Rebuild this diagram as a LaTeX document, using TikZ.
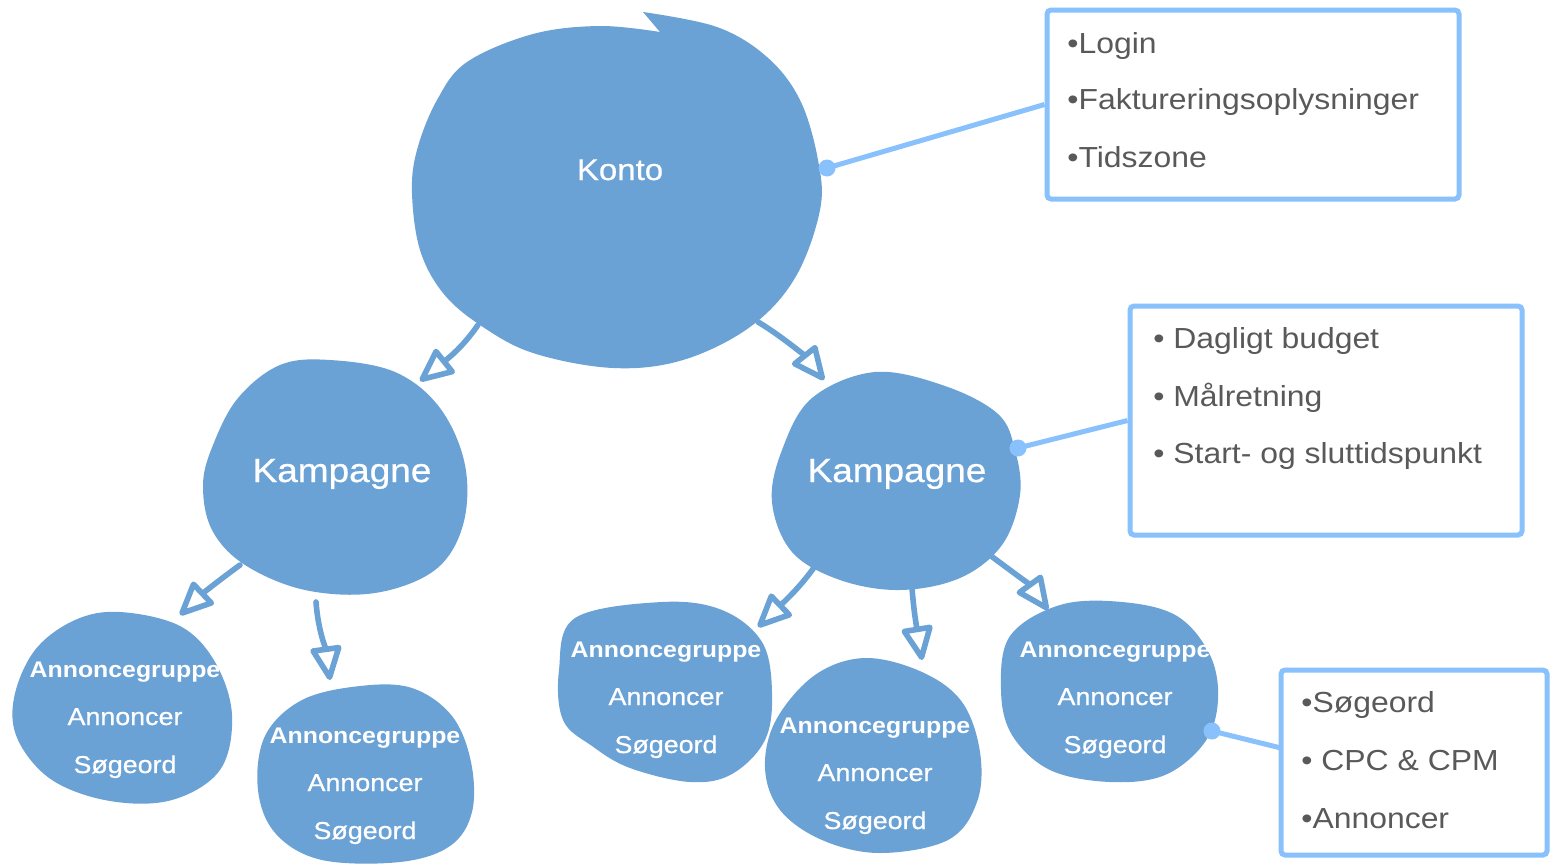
\documentclass[tikz,border=0pt]{standalone}
\usepackage{fontspec}
\setmainfont{Liberation Sans}[FakeStretch=1.1]
\newfontfamily\wfont{Liberation Sans}[FakeStretch=1.1, FakeBold=0.6]
\usetikzlibrary{arrows.meta}
\definecolor{blobc}{HTML}{6BA2D6}
\definecolor{linec}{HTML}{88C1FC}
\definecolor{txtc}{HTML}{595959}
\begin{document}
\begin{tikzpicture}[x=0.5pt,y=-0.5pt,
  blob/.style={fill=blobc},
  arr/.style={draw=blobc, line width=2.8pt, line cap=round,
    -{Triangle[open, length=19pt, width=16.5pt, round]}},
  conn/.style={draw=linec, line width=2.5pt},
  dotn/.style={circle, fill=linec, inner sep=0pt, minimum size=8.5pt},
  infobox/.style={draw=linec, line width=2.5pt, rounded corners=2pt, inner sep=0pt},
  btxt/.style={anchor=base west, text=txtc, font=\fontsize{14.5}{17}\selectfont, inner sep=0pt},
  wt/.style={anchor=base, text=white, inner sep=0pt},
  agt/.style={wt, font=\fontsize{11.3}{14}\selectfont\bfseries},
  agl/.style={wt, font=\wfont\fontsize{12.2}{14}\selectfont}
]
\useasboundingbox (0,0) rectangle (1551,863);

% ---------- blobs ----------
% Konto
\fill[blob] plot[smooth, tension=0.6] coordinates {(643,12) (717,27) (767,57) (800,100) (818,160) (820,210) (795,278) (750,327) (683,360) (613,368) (533,353) (480,325) (443,293) (420,250) (412,193) (417,150) (437,100) (467,62) (533,34) (600,26) (660,32)} -- cycle;
% Kampagne left
\fill[blob] plot[smooth cycle, tension=0.6] coordinates {(330,360) (395,372) (440,408) (465,465) (463,525) (435,570) (375,593) (305,590) (245,565) (212,530) (203,485) (213,445) (238,398) (280,365)};
% Kampagne right
\fill[blob] plot[smooth cycle, tension=0.6] coordinates {(875,372) (945,386) (998,414) (1015,450) (1020,495) (1002,545) (960,578) (900,590) (840,580) (792,552) (772,502) (782,450) (812,398)};
% AG1
\fill[blob] plot[smooth cycle, tension=0.6] coordinates {(120,612) (180,626) (215,662) (232,715) (220,770) (172,800) (110,801) (52,780) (18,740) (14,698) (35,650) (75,620)};
% AG2
\fill[blob] plot[smooth cycle, tension=0.6] coordinates {(360,686) (412,688) (452,716) (471,762) (472,812) (450,846) (400,862) (322,860) (276,834) (258,790) (265,736) (302,700)};
% AG3
\fill[blob] plot[smooth cycle, tension=0.6] coordinates {(662,602) (722,610) (762,642) (772,692) (765,740) (732,774) (690,782) (630,768) (592,746) (563,720) (559,670) (575,618)};
% AG4
\fill[blob] plot[smooth cycle, tension=0.6] coordinates {(865,658) (922,672) (962,702) (980,752) (977,802) (948,840) (880,853) (822,840) (780,810) (765,768) (776,720) (815,675)};
% AG5
\fill[blob] plot[smooth cycle, tension=0.6] coordinates {(1122,602) (1177,616) (1210,655) (1218,700) (1205,742) (1165,775) (1110,782) (1050,770) (1012,735) (1001,690) (1010,636) (1060,605)};

% ---------- texts in blobs ----------
\node[wt, font=\wfont\fontsize{15}{18}\selectfont] (konto) at (620,180) {Konto};
\node[wt, font=\wfont\fontsize{16.8}{20}\selectfont] (kamp1) at (342,482) {Kampagne};
\node[wt, font=\wfont\fontsize{16.8}{20}\selectfont] (kamp2) at (897,482) {Kampagne};

\foreach \n/\x/\y in {ag1/125/668, ag2/365/734, ag3/666/648, ag4/875/724, ag5/1115/648}{
  \node[agt] (\n t) at (\x,\y+9) {Annoncegruppe};
  \node[agl] (\n a) at (\x,\y+57) {Annoncer};
  \node[agl] (\n s) at (\x,\y+105) {Søgeord};
}

% ---------- arrows ----------
\coordinate (a1s) at (478,325); \coordinate (a1e) at (420,381);
\coordinate (a2s) at (758,322); \coordinate (a2e) at (824,380);
\coordinate (a3s) at (240,565); \coordinate (a3e) at (180,615);
\coordinate (a4s) at (316,602); \coordinate (a4e) at (330,680);
\coordinate (a5s) at (815,566); \coordinate (a5e) at (758,627);
\coordinate (a6s) at (912,588); \coordinate (a6e) at (922,660);
\coordinate (a7s) at (987,553); \coordinate (a7e) at (1048,610);
\draw[arr] (a1s) .. controls (466,342) and (456,352) .. (a1e);
\draw[arr] (a2s) .. controls (780,335) and (805,356) .. (a2e);
\draw[arr] (a3s) .. controls (222,578) and (202,594) .. (a3e);
\draw[arr] (a4s) .. controls (318,630) and (326,650) .. (a4e);
\draw[arr] (a5s) .. controls (802,585) and (786,600) .. (a5e);
\draw[arr] (a6s) .. controls (914,615) and (918,635) .. (a6e);
\draw[arr] (a7s) .. controls (1010,570) and (1030,585) .. (a7e);

% ---------- info boxes ----------
\node[infobox, minimum width=206pt, minimum height=94.5pt] (box1) at (1253,104.5) {};
\node[infobox, minimum width=196pt, minimum height=114.5pt] (box2) at (1326,420.5) {};
\node[infobox, minimum width=133pt, minimum height=92.5pt] (box3) at (1414,762.5) {};

\node[btxt] (b1a) at (1067,53) {•Login};
\node[btxt] (b1b) at (1067,109) {•Faktureringsoplysninger};
\node[btxt] (b1c) at (1067,167) {•Tidszone};

\node[btxt] (b2a) at (1153,348) {• Dagligt budget};
\node[btxt] (b2b) at (1153,406) {• Målretning};
\node[btxt] (b2c) at (1153,463) {• Start- og sluttidspunkt};

\node[btxt] (b3a) at (1301,712) {•Søgeord};
\node[btxt] (b3b) at (1301,770) {• CPC \& CPM};
\node[btxt] (b3c) at (1301,828) {•Annoncer};

% ---------- connectors ----------
\node[dotn] (d1) at (827,168) {};
\node[dotn] (d2) at (1018,448) {};
\node[dotn] (d3) at (1212,731) {};
\coordinate (b3in) at (1281,748);
\draw[conn] (d1.center) -- (box1.west);
\draw[conn] (d2.center) -- (box2.west);
\draw[conn] (d3.center) -- (b3in);
\end{tikzpicture}
\end{document}
